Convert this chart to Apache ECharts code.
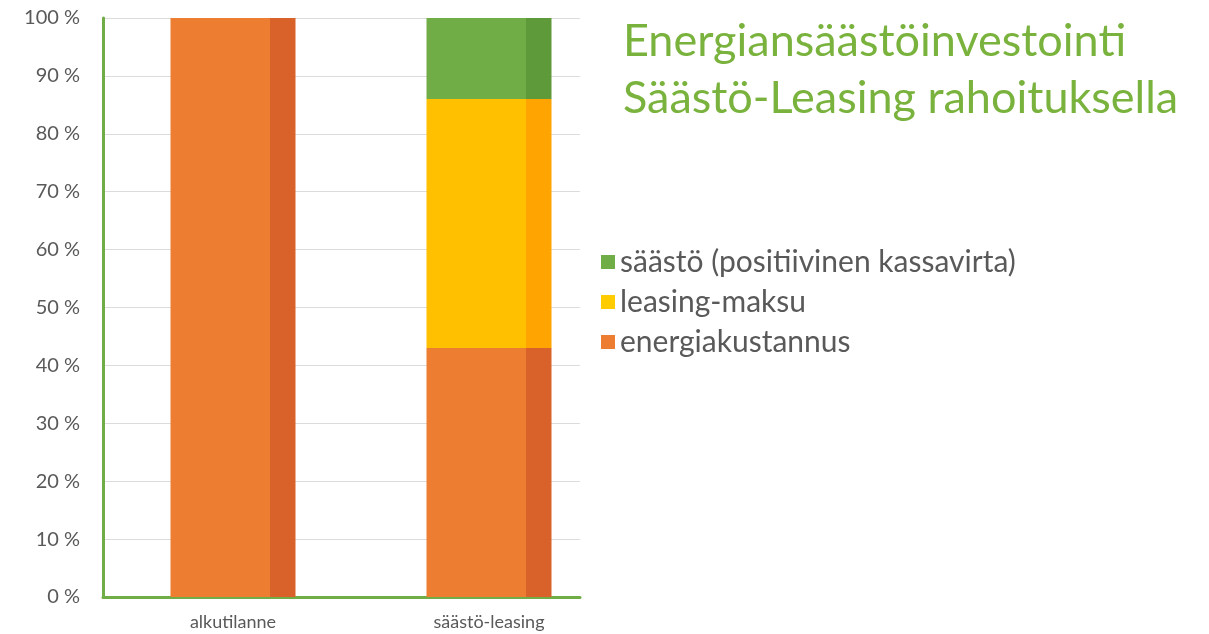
<!DOCTYPE html>
<html>
<head>
<meta charset="utf-8">
<script src="https://cdn.jsdelivr.net/npm/echarts@6/dist/echarts.min.js"></script>
<style>
  html, body { margin: 0; padding: 0; background: #fff; }
  #chart { width: 1209px; height: 634px; }
</style>
</head>
<body>
<div id="chart"></div>
<script>
var categories = ['alkutilanne', 'säästö-leasing'];
var energiakustannus = [100, 43];
var leasingMaksu = [0, 43];
var saasto = [0, 14];

var chart = echarts.init(document.getElementById('chart'));

// front face + darker right side, like the 3D-ish office bars
function face(front, side) {
    return new echarts.graphic.LinearGradient(0, 0, 1, 0, [
        { offset: 0, color: front },
        { offset: 0.8, color: front },
        { offset: 0.8, color: side },
        { offset: 1, color: side }
    ]);
}

var labelFont = 'Lato, "Open Sans", sans-serif';

var option = {
    backgroundColor: '#fff',
    title: {
        text: 'Energiansäästöinvestointi\nSäästö-Leasing rahoituksella',
        left: 618,
        top: 8,
        textStyle: {
            color: '#79b23c',
            fontSize: 45,
            fontWeight: 'normal',
            lineHeight: 57,
            fontFamily: labelFont
        }
    },
    legend: {
        orient: 'vertical',
        left: 596,
        top: 242,
        itemWidth: 14,
        itemHeight: 14,
        itemGap: 10,
        icon: 'rect',
        textStyle: { color: '#595959', fontSize: 30, fontFamily: labelFont },
        data: [
            { name: 'säästö (positiivinen kassavirta)', itemStyle: { color: '#70ad47' } },
            { name: 'leasing-maksu', itemStyle: { color: '#ffcc00' } },
            { name: 'energiakustannus', itemStyle: { color: '#ed7d31' } }
        ]
    },
    grid: [
        { left: 103, width: 477, top: 18, bottom: 37 },
        { left: 105, width: 512, top: 18, bottom: 37 }
    ],
    xAxis: [
        {
            gridIndex: 0,
            type: 'category',
            data: categories,
            axisLine: { lineStyle: { color: '#70ad47', width: 3 } },
            axisTick: { show: false },
            axisLabel: { show: false }
        },
        {
            gridIndex: 1,
            type: 'category',
            data: categories,
            axisLine: { show: false },
            axisTick: { show: false },
            axisLabel: { color: '#595959', fontSize: 18, margin: 16, fontFamily: labelFont }
        }
    ],
    yAxis: [
        {
            gridIndex: 0,
            type: 'value',
            min: 0,
            max: 100,
            interval: 10,
            axisLine: { show: true, lineStyle: { color: '#70ad47', width: 3 } },
            axisTick: { show: false },
            axisLabel: { color: '#595959', fontSize: 20, margin: 23, formatter: '{value} %', fontFamily: labelFont },
            splitLine: { lineStyle: { color: '#dcdcdc', width: 1 } }
        },
        {
            gridIndex: 1,
            type: 'value',
            min: 0,
            max: 100,
            show: false
        }
    ],
    series: [
        {
            name: 'energiakustannus',
            type: 'bar',
            stack: 'total',
            xAxisIndex: 1,
            yAxisIndex: 1,
            barWidth: 125,
            data: energiakustannus,
            itemStyle: { color: face('#ed7d31', '#d9622b') }
        },
        {
            name: 'leasing-maksu',
            type: 'bar',
            stack: 'total',
            xAxisIndex: 1,
            yAxisIndex: 1,
            barWidth: 125,
            data: leasingMaksu,
            itemStyle: { color: face('#ffc000', '#ffa400') }
        },
        {
            name: 'säästö (positiivinen kassavirta)',
            type: 'bar',
            stack: 'total',
            xAxisIndex: 1,
            yAxisIndex: 1,
            barWidth: 125,
            data: saasto,
            itemStyle: { color: face('#70ad47', '#5f9a3a') }
        }
    ]
};

chart.setOption(option);
</script>
</body>
</html>
